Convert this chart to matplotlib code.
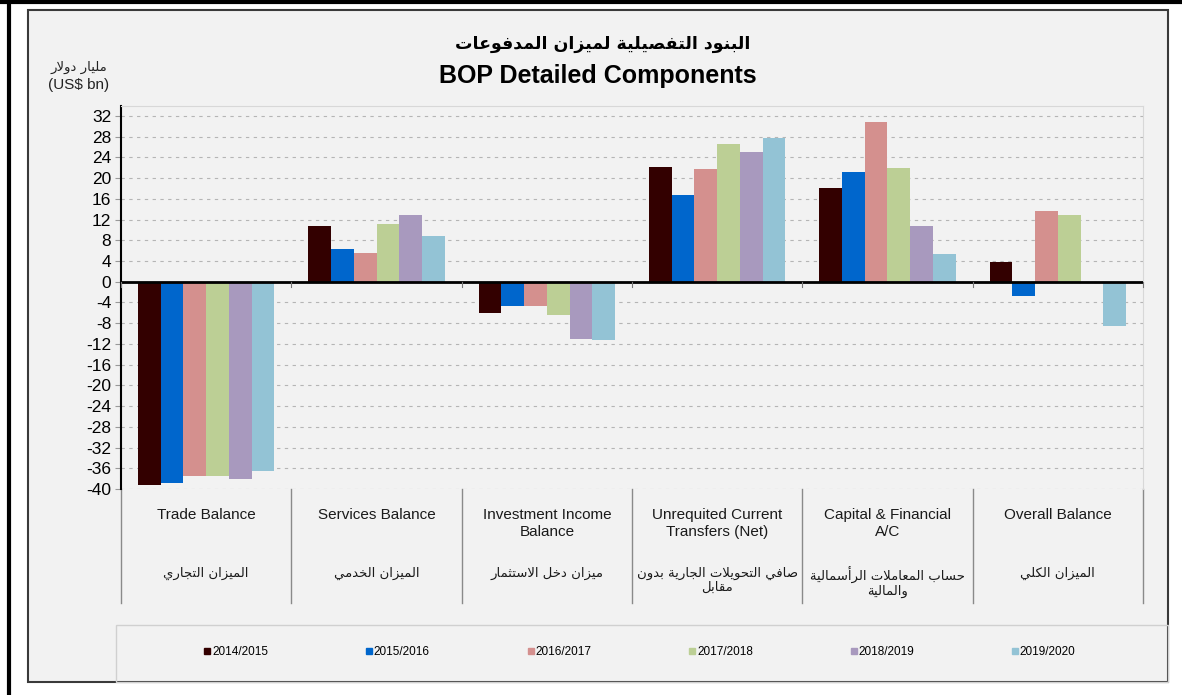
import matplotlib
matplotlib.use('Agg')
import matplotlib.pyplot as plt
import matplotlib.transforms as mtransforms
from matplotlib.patches import Rectangle
from matplotlib.lines import Line2D
import numpy as np

plt.rcParams['axes.unicode_minus'] = False

years = ['2014/2015', '2015/2016', '2016/2017', '2017/2018', '2018/2019', '2019/2020']
cat_en = ['Trade Balance', 'Services Balance', 'Investment Income\nBalance',
          'Unrequited Current\nTransfers (Net)', 'Capital & Financial\nA/C', 'Overall Balance']
cat_ar = ['الميزان التجاري', 'الميزان الخدمي', 'ميزان دخل الاستثمار',
          'صافي التحويلات الجارية بدون\nمقابل', 'حساب المعاملات الرأسمالية\nوالمالية', 'الميزان الكلي']

# values per year, in category order
v_2014 = [-39.2, 10.7, -6.1, 22.1, 18.1, 3.8]
v_2015 = [-38.8, 6.4, -4.6, 16.7, 21.1, -2.8]
v_2016 = [-37.4, 5.5, -4.7, 21.8, 30.9, 13.7]
v_2017 = [-37.4, 11.1, -6.4, 26.5, 21.9, 12.8]
v_2018 = [-38.0, 12.9, -11.0, 25.0, 10.7, 0.0]
v_2019 = [-36.5, 8.9, -11.3, 27.7, 5.3, -8.6]
series = [v_2014, v_2015, v_2016, v_2017, v_2018, v_2019]
colors = ['#330000', '#0066cc', '#d4908e', '#bccf95', '#a899be', '#93c3d5']

# --- tiny arabic shaper (matplotlib has no complex text layout) ---
dual = {'ب': 0xFE8F, 'ت': 0xFE95, 'ث': 0xFE99, 'ج': 0xFE9D, 'ح': 0xFEA1, 'خ': 0xFEA5,
        'س': 0xFEB1, 'ش': 0xFEB5, 'ص': 0xFEB9, 'ض': 0xFEBD, 'ط': 0xFEC1, 'ظ': 0xFEC5,
        'ع': 0xFEC9, 'غ': 0xFECD, 'ف': 0xFED1, 'ق': 0xFED5, 'ك': 0xFED9, 'ل': 0xFEDD,
        'م': 0xFEE1, 'ن': 0xFEE5, 'ه': 0xFEE9, 'ي': 0xFEF1}
right = {'ا': 0xFE8D, 'أ': 0xFE83, 'د': 0xFEA9, 'ذ': 0xFEAB, 'ر': 0xFEAD, 'ز': 0xFEAF,
         'و': 0xFEED, 'ة': 0xFE93, 'ى': 0xFEEF, 'لا': 0xFEFB, 'لأ': 0xFEF7}


def shape_line(text):
    units = []
    i = 0
    while i < len(text):
        if text[i] == 'ل' and i + 1 < len(text) and text[i + 1] in 'اأ':
            units.append(text[i:i + 2])
            i += 2
        else:
            units.append(text[i])
            i += 1
    out = []
    for k, u in enumerate(units):
        prev = units[k - 1] if k > 0 else ''
        nxt = units[k + 1] if k + 1 < len(units) else ''
        if u not in dual and u not in right:
            out.append(u)
            continue
        jp = prev in dual
        if u in dual:
            jn = nxt in dual or nxt in right
            off = 3 if (jp and jn) else 1 if jp else 2 if jn else 0
            out.append(chr(dual[u] + off))
        else:
            out.append(chr(right[u] + (1 if jp else 0)))
    return ''.join(reversed(out))


def ar(text):
    return '\n'.join(shape_line(t) for t in text.split('\n'))


W, H = 1182, 695
fig = plt.figure(figsize=(W / 100, H / 100), dpi=100)
fig.patch.set_facecolor('white')


def fx(x):
    return x / W


def fy(y):
    return 1 - y / H


# outer frame bits and inner panel
fig.add_artist(Line2D([0, 1], [fy(1.5), fy(1.5)], color='black', lw=3))
fig.add_artist(Line2D([fx(9), fx(9)], [0, 1], color='black', lw=3))
fig.add_artist(Rectangle((fx(28), fy(682)), fx(1168 - 28), (682 - 10) / H,
                         facecolor='#f2f2f2', edgecolor='#3a3a3a', lw=1.5, zorder=0))
fig.add_artist(Rectangle((fx(116), fy(682)), fx(1168 - 116), (682 - 625) / H,
                         facecolor='none', edgecolor='#d0d0d0', lw=1, zorder=1))

ax = fig.add_axes([fx(121), fy(489), fx(1143 - 121), (489 - 106) / H])
ax.set_facecolor('#f2f2f2')

n = len(series)
bw = 0.8 / n
x = np.arange(len(cat_en))
for i, (vals, c) in enumerate(zip(series, colors)):
    ax.bar(x - 0.4 + bw * (i + 0.5), vals, bw, color=c, zorder=3, label=years[i])

ax.set_xlim(-0.5, len(cat_en) - 0.5)
ax.set_ylim(-40, 33.9)
ax.set_yticks(np.arange(-40, 33, 4))
ax.yaxis.grid(True, linestyle=(0, (3, 4)), color='#b5b5b5', lw=0.8, zorder=0)
ax.axhline(0, color='black', lw=2, zorder=4)
ax.set_xticks([])
ax.tick_params(axis='y', length=4, color='#999999', labelsize=12.5, pad=3)
for lab in ax.get_yticklabels():
    lab.set_fontfamily('Liberation Sans')
ax.spines['left'].set_color('black')
ax.spines['left'].set_linewidth(1.5)
ax.spines['bottom'].set_visible(False)
ax.spines['top'].set_color('#d8d8d8')
ax.spines['right'].set_color('#d8d8d8')

# category separators and labels below the plot
trans = mtransforms.blended_transform_factory(ax.transData, ax.transAxes)
ybot = (489 - 603) / 383
yzero = (489 - 282) / 383
for b in np.arange(-0.5, len(cat_en), 1.0):
    ax.plot([b, b], [0, ybot], transform=trans, color='#8a8a8a', lw=1, clip_on=False)
    ax.plot([b, b], [yzero, yzero - 0.012],
            transform=trans, color='#777777', lw=0.8, clip_on=False, zorder=5)
for i in range(len(cat_en)):
    ax.text(i, (489 - 508) / 383, cat_en[i], transform=trans, ha='center', va='top',
            fontsize=11, family='Liberation Sans', color='#1a1a1a', linespacing=1.3)
    ax.text(i, (489 - 567) / 383, ar(cat_ar[i]), transform=trans, ha='center', va='top',
            fontsize=9.5, family='DejaVu Sans', color='#1a1a1a', linespacing=1.05)

# titles
fig.text(fx(603), fy(44), ar('البنود التفصيلية لميزان المدفوعات'), ha='center', va='center',
         fontsize=12.5, weight='bold', family='DejaVu Sans')
fig.text(fx(598), fy(76), 'BOP Detailed Components', ha='center', va='center',
         fontsize=18, weight='bold', family='Liberation Sans')
fig.text(fx(79), fy(67), ar('مليار دولار'), ha='center', va='center',
         fontsize=9.5, family='DejaVu Sans', color='#222222')
fig.text(fx(79), fy(85), '(US$ bn)', ha='center', va='center',
         fontsize=11, family='Liberation Sans', color='#222222')

# legend
handles = [Line2D([], [], marker='s', linestyle='none', markersize=5,
                  markerfacecolor=c, markeredgecolor=c) for c in colors]
fig.legend(handles, years, loc='center', bbox_to_anchor=(fx(640), fy(652)), ncol=6,
           frameon=False, handlelength=0.5, handletextpad=0.15, columnspacing=8.3,
           prop={'family': 'Liberation Sans', 'size': 8.5})

fig.savefig('out.png', dpi=100, facecolor='white')
